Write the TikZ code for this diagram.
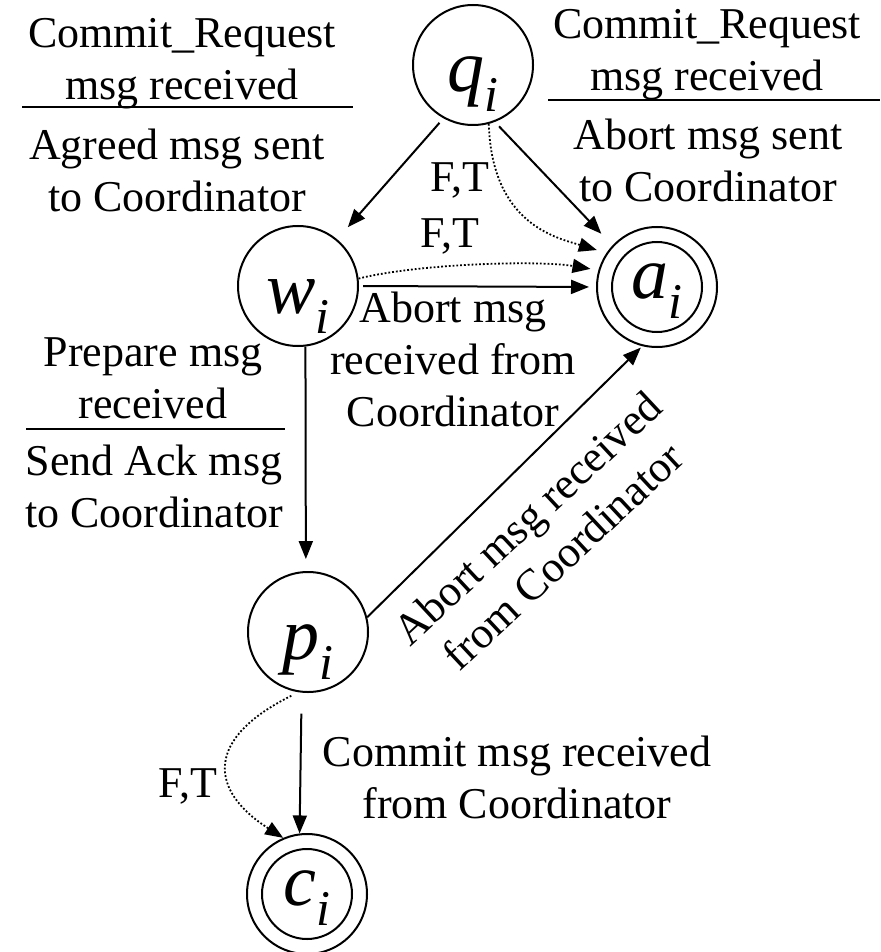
\documentclass[tikz,border=0pt]{standalone}
\usepackage{fontspec}
\setmainfont{Liberation Serif}
\usetikzlibrary{arrows.meta}
\newcommand{\idx}{\raisebox{-10pt}{\fontsize{25}{25}\selectfont i}}

\begin{document}
\begin{tikzpicture}[x=0.5pt,y=-0.5pt,
  state/.style={draw, circle, line width=1pt, minimum size=60pt, inner sep=0pt, text height=37pt, text depth=10pt, font=\fontsize{37}{37}\selectfont\itshape},
  final/.style={draw, circle, line width=1pt, minimum size=45pt, inner sep=0pt, text height=21pt, text depth=10pt, font=\fontsize{37}{37}\selectfont\itshape},
  lbl/.style={font=\fontsize{22}{26}\selectfont, align=center, inner sep=0pt},
  edge/.style={draw, line width=1pt, -{Triangle[length=9pt,width=7pt]}},
  dot/.style={draw, line width=0.9pt, densely dotted, -{Triangle[length=9pt,width=7pt]}}]
\useasboundingbox (0,0) rectangle (880,952);

\node[state] (q) at (473,65) {q\idx};
\node[state] (w) at (298,286) {w\idx};
\node[state] (a) at (657,287) {};
\node[final] (ain) at (a) {a\idx};
\node[state] (p) at (308,632) {p\idx};
\node[state] (c) at (307,894) {};
\node[final] (cin) at (c) {c\idx};

\node[lbl] (crq) at (182,64) {Commit\_Request\\msg received};
\draw[line width=1pt] (22,107) -- (353,107);
\node[lbl] (agr) at (177,170) {Agreed msg sent\\to Coordinator};

\node[lbl] (crq2) at (707,55) {Commit\_Request\\msg received};
\draw[line width=1pt] (548,100) -- (880,100);
\node[lbl] (abs) at (708,160) {Abort msg sent\\to Coordinator};

\node[lbl] (prep) at (153,378) {Prepare msg\\received};
\draw[line width=1pt] (26,429) -- (285,429);
\node[lbl] (ack) at (154,486) {Send Ack msg\\to Coordinator};

\node[lbl] (abrcv) at (453,359) {Abort msg\\received from\\Coordinator};
\node[lbl, rotate=43] (abrcv2) at (545,537) {Abort msg received\\from Coordinator};
\node[lbl] (cmt) at (517,777) {Commit msg received\\from Coordinator};

\node[lbl, anchor=base] (ft1) at (460,192) {F,T};
\node[lbl, anchor=base] (ft2) at (450,248) {F,T};
\node[lbl, anchor=base] (ft3) at (188,797) {F,T};

\path[edge, shorten <=3pt, shorten >=8pt] (q.241) -- (w.50);
\path[edge, shorten <=3pt, shorten >=8pt] (q.291) -- (a.137);
\path[dot, shorten >=5pt] (q.-75) .. controls +(3,100) and +(-50,-15) .. (a.146);
\path[dot, shorten >=4pt] (w.7) .. controls +(60,-15) and +(-60,-10) .. (a.164);
\path[edge, shorten <=2pt, shorten >=3.5pt] (w.east) -- (a.west);
\path[edge, shorten >=6pt] (w.-83) -- (p.92);
\path[edge, shorten >=1pt] (p.14) -- (a.256);
\path[edge, shorten <=10.5pt] (p.264) -- (c.97);
\path[dot, shorten <=4pt] (p.261) .. controls +(-93,46) and +(-75,-48) .. (c.113);
\end{tikzpicture}
\end{document}
